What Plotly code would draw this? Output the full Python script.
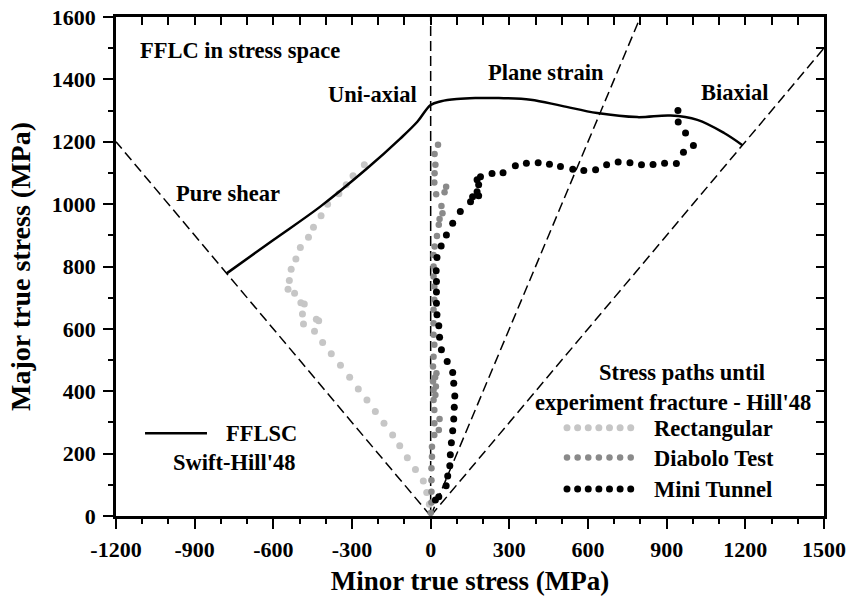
import plotly.graph_objects as go

# ---- FFLSC (Swift-Hill'48) fracture limit curve in stress space ----
fflsc_x = [-778, -600, -421, -243, -116, -50, 0, 40, 100, 170, 260,
           381, 500, 635, 788, 915, 1017, 1119, 1189]
fflsc_y = [778, 885, 992, 1114, 1210, 1265, 1318, 1330, 1337, 1340, 1340,
           1335, 1315, 1292, 1279, 1284, 1270, 1228, 1189]

# ---- Stress paths until experiment fracture ----
rect_x = [-5, -15, -28, -58, -89, -118, -145, -178, -211, -243, -276, -309, -344, -379, -412,
          -443, -485, -427, -436, -489, -482, -495, -519, -544, -539, -532, -514, -497, -466,
          -447, -418, -393, -350, -322, -296, -253]
rect_y = [38, 75, 112, 149, 187, 225, 260, 297, 335, 372, 407, 445, 483, 520, 556,
          592, 616, 626, 631, 648, 680, 684, 714, 727, 755, 791, 824, 861, 894,
          926, 963, 1000, 1033, 1062, 1091, 1126]

diabolo_x = [0, 3, 3, 3, 3, 5, 5, 14, 31, 14, 34, 14, 11, 18, 11, 20, 9, 17, 22, 9, 11, 14,
             11, 11, 11, 14, 14, 11, 11, 11, 15, 24, 31, 34, 45, 41, 21, 53, 59, 14, 15, 18,
             15, 28]
diabolo_y = [10, 43, 78, 115, 153, 190, 222, 260, 276, 297, 311, 340, 372, 388, 404, 415, 431,
             445, 458, 479, 511, 549, 581, 618, 661, 693, 736, 768, 800, 837, 864, 898, 934,
             952, 971, 994, 1032, 1038, 1056, 1069, 1099, 1126, 1161, 1190]

tunnel_x = [18, 31, 59, 65, 73, 75, 79, 84, 88, 90, 92, 88, 84, 63, 41, 34, 31, 24, 22, 22,
            22, 21, 24, 40, 60, 84, 113, 152, 160, 183, 177, 183, 177, 190, 234, 276, 323,
            365, 410, 453, 495, 542, 584, 629, 671, 715, 760, 804, 848, 892, 937, 964, 1002,
            972, 944, 943]
tunnel_y = [51, 62, 97, 128, 161, 196, 235, 273, 311, 349, 385, 426, 460, 495, 533, 573, 610,
            645, 682, 718, 752, 786, 829, 866, 901, 939, 976, 1008, 1024, 1027, 1040, 1062,
            1078, 1088, 1098, 1101, 1123, 1131, 1133, 1128, 1121, 1112, 1108, 1110, 1126,
            1135, 1133, 1126, 1127, 1131, 1130, 1166, 1188, 1228, 1263, 1300]

# ---- Loading-direction rays from the origin (endpoints) ----
shear_ray_x, shear_ray_y = [0, -1200], [0, 1200]
uniax_ray_x, uniax_ray_y = [0, 0], [0, 1600]
plane_ray_x, plane_ray_y = [0, 800], [0, 1600]
biax_ray_x, biax_ray_y = [0, 1500], [0, 1500]

# ---- Axis ticks ----
x_ticks = [-1200, -900, -600, -300, 0, 300, 600, 900, 1200, 1500]
x_ticklabels = ["-1200", "-900", "-600", "-300", "0", "300", "600", "900", "1200", "1500"]
y_ticks = [0, 200, 400, 600, 800, 1000, 1200, 1400, 1600]
y_ticklabels = [str(v) for v in y_ticks]

FONT = "Liberation Serif"
BOLD = dict(family=FONT, color="black", weight="bold")

fig = go.Figure()

dash_style = dict(color="black", width=1.5, dash="10px,5px")
for rx, ry in [(shear_ray_x, shear_ray_y), (uniax_ray_x, uniax_ray_y),
               (plane_ray_x, plane_ray_y), (biax_ray_x, biax_ray_y)]:
    fig.add_trace(go.Scatter(x=rx, y=ry, mode="lines", line=dash_style,
                             showlegend=False, hoverinfo="skip"))

fig.add_trace(go.Scatter(x=rect_x, y=rect_y, mode="markers", name="Rectangular",
                         marker=dict(color="#c6c6c6", size=7), showlegend=False))
fig.add_trace(go.Scatter(x=diabolo_x, y=diabolo_y, mode="markers", name="Diabolo Test",
                         marker=dict(color="#8a8a8a", size=6.5), showlegend=False))
fig.add_trace(go.Scatter(x=tunnel_x, y=tunnel_y, mode="markers", name="Mini Tunnel",
                         marker=dict(color="black", size=7), showlegend=False))
fig.add_trace(go.Scatter(x=fflsc_x, y=fflsc_y, mode="lines", name="FFLSC",
                         line=dict(color="black", width=2.5, shape="spline", smoothing=1.0),
                         showlegend=False))

# ---- Hand-placed legend keys on a unit overlay axis ----
key_x = [0.637, 0.652, 0.667, 0.682, 0.697, 0.712, 0.727]
key_rows = [(0.177, "#c6c6c6", 7), (0.117, "#8a8a8a", 6.5), (0.054, "black", 7)]
for ky, kc, ks in key_rows:
    fig.add_trace(go.Scatter(x=key_x, y=[ky] * len(key_x), xaxis="x3", yaxis="y3",
                             mode="markers", marker=dict(color=kc, size=ks),
                             showlegend=False, hoverinfo="skip"))
fig.add_trace(go.Scatter(x=[0.041, 0.1285], y=[0.166, 0.166], xaxis="x3", yaxis="y3",
                         mode="lines", line=dict(color="black", width=2.5),
                         showlegend=False, hoverinfo="skip"))

def label(text, x, y, size=22.5, xanchor="center"):
    fig.add_annotation(text=text, x=x, y=y, xref="paper", yref="paper", showarrow=False,
                       xanchor=xanchor, yanchor="middle", font=dict(size=size, **BOLD))

label("FFLC in stress space", 0.175, 0.932)
label("Uni-axial", 0.362, 0.844)
label("Pure shear", 0.158, 0.647)
label("Plane strain", 0.607, 0.888)
label("Biaxial", 0.874, 0.848)
label("Stress paths until", 0.799, 0.287)
label("experiment fracture - Hill'48", 0.787, 0.228)
label("Rectangular", 0.757, 0.176, xanchor="left")
label("Diabolo Test", 0.757, 0.116, xanchor="left")
label("Mini Tunnel", 0.757, 0.054, xanchor="left")
label("FFLSC", 0.205, 0.166)
label("Swift-Hill'48", 0.167, 0.108)

axis_common = dict(showgrid=False, zeroline=False, showline=True, linecolor="black",
                   linewidth=2.5, automargin=False)

fig.update_layout(
    width=861, height=596, autosize=False,
    margin=dict(l=116, r=37, t=17, b=80, pad=0),
    paper_bgcolor="white", plot_bgcolor="white",
    showlegend=False,
    xaxis=dict(range=[-1200, 1500], tickvals=x_ticks, ticktext=x_ticklabels,
               ticks="outside", ticklen=10, tickwidth=2, tickcolor="black",
               ticklabelstandoff=2,
               minor=dict(tick0=-1200, dtick=100, ticks="outside", ticklen=5,
                          tickwidth=2, tickcolor="black"),
               tickfont=dict(size=22, **BOLD),
               title=dict(text="Minor true stress (MPa)", font=dict(size=27, **BOLD),
                          standoff=16),
               **axis_common),
    yaxis=dict(range=[0, 1600], tickvals=y_ticks, ticktext=y_ticklabels,
               ticks="outside", ticklen=10, tickwidth=2, tickcolor="black",
               ticklabelstandoff=3,
               minor=dict(tick0=0, dtick=100, ticks="outside", ticklen=5,
                          tickwidth=2, tickcolor="black"),
               tickfont=dict(size=22, **BOLD),
               title=dict(text="Major true stress (MPa)", font=dict(size=28, **BOLD),
                          standoff=14),
               **axis_common),
    xaxis2=dict(overlaying="x", side="top", range=[-1200, 1500], tick0=-1200, dtick=100,
                ticks="inside", ticklen=8, tickwidth=2, tickcolor="black",
                showticklabels=False, **axis_common),
    yaxis2=dict(overlaying="y", side="right", range=[0, 1600], tick0=0, dtick=100,
                ticks="inside", ticklen=8, tickwidth=2, tickcolor="black",
                showticklabels=False, **axis_common),
    xaxis3=dict(overlaying="x", range=[0, 1], visible=False),
    yaxis3=dict(overlaying="y", range=[0, 1], visible=False),
)

# bind the mirror axes so they are drawn
fig.add_trace(go.Scatter(x=[None], y=[None], xaxis="x2", yaxis="y2", showlegend=False,
                         hoverinfo="skip"))

fig.write_html("out.html")
